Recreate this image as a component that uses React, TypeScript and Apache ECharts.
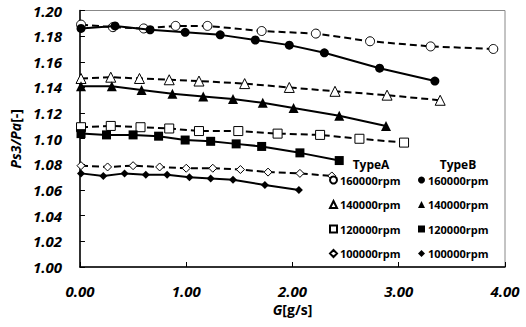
import React, { useEffect, useRef } from "react";
import * as echarts from "echarts";

const gA160 = [0.01, 0.31, 0.6, 0.9, 1.2, 1.71, 2.22, 2.73, 3.3, 3.89];
const pA160 = [1.189, 1.187, 1.186, 1.188, 1.188, 1.184, 1.182, 1.176, 1.172, 1.17];
const gB160 = [0.01, 0.33, 0.66, 0.99, 1.32, 1.65, 1.97, 2.3, 2.82, 3.34];
const pB160 = [1.186, 1.188, 1.185, 1.183, 1.181, 1.177, 1.173, 1.167, 1.155, 1.145];
const gA140 = [0.01, 0.29, 0.56, 0.84, 1.12, 1.55, 1.97, 2.4, 2.89, 3.39];
const pA140 = [1.147, 1.148, 1.147, 1.146, 1.145, 1.143, 1.14, 1.137, 1.134, 1.13];
const gB140 = [0.01, 0.3, 0.58, 0.87, 1.16, 1.44, 1.72, 2.01, 2.44, 2.88];
const pB140 = [1.141, 1.141, 1.138, 1.135, 1.133, 1.131, 1.128, 1.124, 1.118, 1.11];
const gA120 = [0.01, 0.29, 0.57, 0.84, 1.12, 1.49, 1.86, 2.26, 2.63, 3.05];
const pA120 = [1.109, 1.11, 1.109, 1.108, 1.106, 1.106, 1.104, 1.103, 1.1, 1.097];
const gB120 = [0.01, 0.25, 0.5, 0.74, 0.99, 1.23, 1.47, 1.71, 2.07, 2.44];
const pB120 = [1.104, 1.103, 1.103, 1.102, 1.099, 1.098, 1.096, 1.094, 1.089, 1.083];
const gA100 = [0.01, 0.26, 0.5, 0.75, 1.0, 1.25, 1.51, 1.77, 2.07, 2.37];
const pA100 = [1.079, 1.078, 1.079, 1.078, 1.077, 1.077, 1.076, 1.074, 1.073, 1.071];
const gB100 = [0.01, 0.22, 0.42, 0.62, 0.82, 1.03, 1.23, 1.44, 1.74, 2.06];
const pB100 = [1.073, 1.071, 1.073, 1.072, 1.072, 1.07, 1.069, 1.068, 1.064, 1.06];

const speeds = ["160000rpm", "140000rpm", "120000rpm", "100000rpm"];
const symbols = ["circle", "triangle", "rect", "diamond"];
const sizesA = [9, 10, 9, 8];
const sizesB = [9, 10, 9, 8];
const dataA = [
  [gA160, pA160],
  [gA140, pA140],
  [gA120, pA120],
  [gA100, pA100],
];
const dataB = [
  [gB160, pB160],
  [gB140, pB140],
  [gB120, pB120],
  [gB100, pB100],
];

const FONT = "'Open Sans', 'Noto Sans', sans-serif";

export default function App() {
  const ref = useRef<HTMLDivElement>(null);
  useEffect(() => {
    document.body.style.margin = "0";
    if (!ref.current) return;
    const chart = echarts.init(ref.current, null, { renderer: "svg" });
    const series: any[] = [];
    speeds.forEach((s, i) => {
      const [g, p] = dataA[i];
      series.push({
        name: "A " + s,
        type: "line",
        data: g.map((x, k) => [x, p[k]]),
        symbol: symbols[i],
        symbolSize: sizesA[i],
        showAllSymbol: true,
        lineStyle: { color: "#000", width: 2, type: [7, 4] },
        itemStyle: { color: "#fff", borderColor: "#000", borderWidth: 1 },
        z: 2,
      });
    });
    speeds.forEach((s, i) => {
      const [g, p] = dataB[i];
      series.push({
        name: "B " + s,
        type: "line",
        data: g.map((x, k) => [x, p[k]]),
        symbol: symbols[i],
        symbolSize: sizesB[i],
        showAllSymbol: true,
        lineStyle: { color: "#000", width: 2, type: "solid" },
        itemStyle: { color: "#000", borderColor: "#000", borderWidth: 0 },
        z: 3,
      });
    });
    const legendCommon = {
      orient: "vertical",
      top: 174,
      padding: 0,
      itemGap: 12.5,
      itemWidth: 7,
      itemHeight: 7,
      selectedMode: false,
      formatter: (n: string) => n.slice(2),
      textStyle: {
        fontFamily: FONT,
        fontWeight: "bold",
        fontSize: 11,
        lineHeight: 12,
        color: "#000",
        padding: [0, 0, 0, -2],
      },
    };
    chart.setOption({
      animation: false,
      backgroundColor: "#fff",
      grid: {
        left: 73,
        right: 21,
        top: 10.5,
        bottom: 60,
        show: true,
        borderColor: "#888",
        borderWidth: 1,
        backgroundColor: "transparent",
      },
      xAxis: {
        type: "value",
        min: 0,
        max: 4,
        interval: 1,
        name: "{i|G}[g/s]",
        nameLocation: "middle",
        nameGap: 35,
        nameTextStyle: {
          fontFamily: FONT,
          fontWeight: "bold",
          fontSize: 14,
          color: "#000",
          rich: {
            i: { fontFamily: FONT, fontWeight: "bold", fontStyle: "italic", fontSize: 14, color: "#000" },
          },
        },
        axisLine: { show: true, onZero: false, lineStyle: { color: "#000", width: 1.5 } },
        axisTick: { show: true, inside: true, length: 5, lineStyle: { color: "#000" } },
        splitLine: { show: false },
        axisLabel: {
          margin: 16,
          formatter: (v: number) => v.toFixed(2),
          fontFamily: FONT,
          fontWeight: "bold",
          fontStyle: "italic",
          fontSize: 15,
          color: "#000",
        },
      },
      yAxis: {
        type: "value",
        min: 1.0,
        max: 1.2,
        interval: 0.02,
        name: "{i|Ps3/Pa}[-]",
        nameLocation: "middle",
        nameGap: 50,
        nameRotate: 90,
        nameTextStyle: {
          fontFamily: FONT,
          fontWeight: "bold",
          fontSize: 14,
          color: "#000",
          rich: {
            i: { fontFamily: FONT, fontWeight: "bold", fontStyle: "italic", fontSize: 14, color: "#000" },
          },
        },
        axisLine: { show: true, lineStyle: { color: "#000", width: 1.5 } },
        axisTick: { show: true, inside: true, length: 5, lineStyle: { color: "#000" } },
        splitLine: { show: false },
        axisLabel: {
          margin: 18,
          formatter: (v: number) => v.toFixed(2),
          fontFamily: FONT,
          fontWeight: "bold",
          fontStyle: "italic",
          fontSize: 15,
          color: "#000",
        },
      },
      legend: [
        {
          ...legendCommon,
          left: 329,
          data: speeds.map((s, i) => ({ name: "A " + s, icon: symbols[i] })),
        },
        {
          ...legendCommon,
          left: 418,
          data: speeds.map((s, i) => ({ name: "B " + s, icon: symbols[i] })),
        },
      ],
      graphic: [
        {
          type: "text",
          x: 371,
          y: 164,
          style: {
            text: "TypeA",
            fontFamily: FONT,
            fontWeight: "bold",
            fontSize: 12,
            lineHeight: 12,
            fill: "#000",
            textAlign: "center",
            textVerticalAlign: "middle",
          },
        },
        {
          type: "text",
          x: 458,
          y: 164,
          style: {
            text: "TypeB",
            fontFamily: FONT,
            fontWeight: "bold",
            fontSize: 12,
            lineHeight: 12,
            fill: "#000",
            textAlign: "center",
            textVerticalAlign: "middle",
          },
        },
      ],
      series,
    });
    return () => chart.dispose();
  }, []);
  return <div ref={ref} style={{ width: 526, height: 327 }} />;
}
